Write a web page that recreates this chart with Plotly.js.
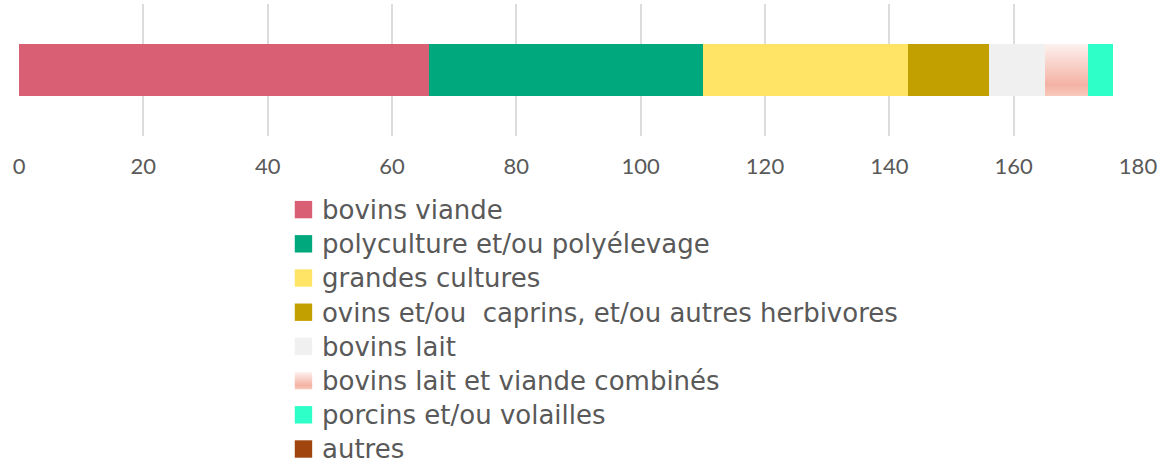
<!DOCTYPE html>
<html>
<head>
<meta charset="utf-8">
<script src="https://cdn.plot.ly/plotly-3.0.1.min.js"></script>
<style>html,body{margin:0;padding:0;background:#fff;}#chart{width:1161px;height:463px;}</style>
</head>
<body>
<div id="chart"></div>
<script>
const categories = ['bovins viande', 'polyculture et/ou polyélevage', 'grandes cultures',
  'ovins et/ou\u00a0 caprins, et/ou autres herbivores', 'bovins lait',
  'bovins lait et viande combinés', 'porcins et/ou volailles', 'autres'];
const values = [66, 44, 33, 13, 9, 7, 4, 0];
const colors = ['#D95F75', '#00A87E', '#FFE466', '#C2A000', '#F0F0F0', '#F6BBAE', '#2EFFC9', '#A0450E'];
const tickVals = [0, 20, 40, 60, 80, 100, 120, 140, 160, 180];

const traces = categories.map((name, i) => ({
  type: 'bar', orientation: 'h', name: name,
  x: [values[i]], y: [''],
  marker: {color: colors[i], line: {width: 0}},
  hoverinfo: 'name+x'
}));

const layout = {
  width: 1161, height: 463,
  margin: {l: 19, r: 23, t: 4, b: 0, autoexpand: false},
  barmode: 'stack', bargap: 0.6,
  paper_bgcolor: '#fff', plot_bgcolor: 'rgba(0,0,0,0)',
  font: {family: 'Lato, "Liberation Sans", sans-serif', color: '#595959'},
  xaxis: {range: [0, 180], tickvals: tickVals, showgrid: true, gridcolor: '#DCDCDC', gridwidth: 2,
    zeroline: false, showline: false, ticks: '', ticklabelstandoff: 15,
    tickfont: {size: 22, color: '#595959'}, fixedrange: true},
  yaxis: {domain: [0.7124, 1], showticklabels: false, showgrid: false, zeroline: false, fixedrange: true},
  showlegend: true,
  legend: {orientation: 'v', x: 0.235, xanchor: 'left', y: 0.6002, yanchor: 'top',
    traceorder: 'normal', font: {family: '"DejaVu Sans", sans-serif', size: 24, color: '#595959'},
    bgcolor: 'rgba(0,0,0,0)'}
};

Plotly.newPlot('chart', traces, layout, {staticPlot: true}).then(gd => {
  const svg = gd.querySelector('svg.main-svg');
  const ns = 'http://www.w3.org/2000/svg';
  let defs = svg.querySelector('defs');
  if (!defs) { defs = document.createElementNS(ns, 'defs'); svg.insertBefore(defs, svg.firstChild); }
  const grad = document.createElementNS(ns, 'linearGradient');
  grad.setAttribute('id', 'combGrad');
  grad.setAttribute('x1', '0'); grad.setAttribute('y1', '0');
  grad.setAttribute('x2', '0'); grad.setAttribute('y2', '1');
  [['0', '#FDF2F0'], ['0.78', '#F4B2A3'], ['1', '#F8CABE']].forEach(([o, c]) => {
    const s = document.createElementNS(ns, 'stop');
    s.setAttribute('offset', o); s.setAttribute('stop-color', c);
    grad.appendChild(s);
  });
  defs.appendChild(grad);
  const barTraces = gd.querySelectorAll('.barlayer .trace');
  if (barTraces[5]) barTraces[5].querySelectorAll('path').forEach(p => p.style.fill = 'url(#combGrad)');
  gd.querySelectorAll('.legend [clip-path]').forEach(e => e.removeAttribute('clip-path'));
  const legTraces = gd.querySelectorAll('.legend .traces');
  legTraces.forEach((t, i) => {
    t.querySelectorAll('.legendpoints path').forEach(p => {
      const tr = p.getAttribute('transform') || '';
      p.setAttribute('transform', tr + ' translate(1.5,0) scale(1.45)');
      if (i === 5) p.style.fill = 'url(#combGrad)';
    });
    t.querySelectorAll('text.legendtext').forEach(tx => { tx.style.fontSize = '26px'; });
  });
});
</script>
</body>
</html>
